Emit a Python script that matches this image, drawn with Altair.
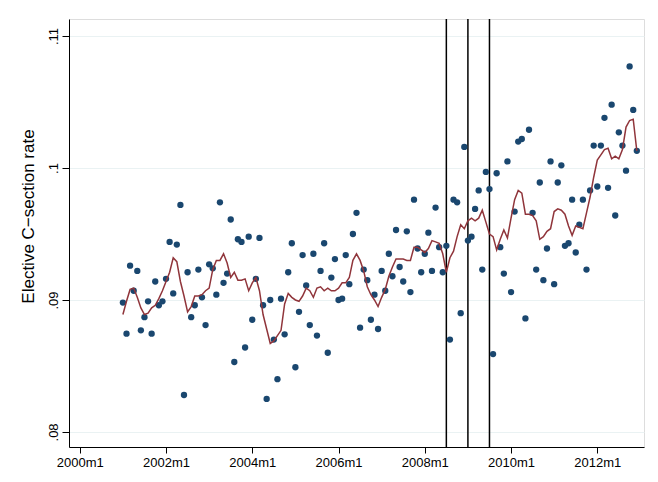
import altair as alt
import pandas as pd

# months since 2000m1 (2001m1 .. 2012m12)
months = list(range(12, 156))
rate = [
    0.0898, 0.08745, 0.0926, 0.0907, 0.0922, 0.0877, 0.0887, 0.0899, 0.08745, 0.0914, 0.0896, 0.0899,
    0.0916, 0.0944, 0.0905, 0.0942, 0.0972, 0.0828, 0.0921, 0.0887, 0.0896, 0.0923, 0.0902, 0.0881,
    0.0927, 0.0924, 0.0904, 0.0974, 0.0913, 0.0920, 0.0961, 0.0853, 0.0946, 0.0944, 0.0864, 0.0948,
    0.0885, 0.0916, 0.0947, 0.0896, 0.0825, 0.0900, 0.0870, 0.0840, 0.0901, 0.0874, 0.0921, 0.0943,
    0.0849, 0.0891, 0.0934, 0.0911, 0.0881, 0.0935, 0.0873, 0.0922, 0.0943, 0.0860, 0.0917, 0.0931,
    0.0900, 0.0901, 0.0934, 0.0912, 0.0950, 0.0966, 0.0879, 0.0923, 0.0915, 0.0885, 0.0904, 0.0878,
    0.0922, 0.0907, 0.0935, 0.0918, 0.0953, 0.0925, 0.0914, 0.0952, 0.0906, 0.0976, 0.0939, 0.0921,
    0.0935, 0.0951, 0.0922, 0.0970, 0.0940, 0.0921, 0.0941, 0.0870, 0.0976, 0.0974, 0.0890, 0.1016,
    0.0945, 0.0948, 0.0969, 0.0983, 0.0923, 0.0997, 0.0984, 0.0859, 0.0996, 0.0940, 0.0920, 0.1005,
    0.0906, 0.0967, 0.1020, 0.1022, 0.0886, 0.1029, 0.0966, 0.0923, 0.0989, 0.0915, 0.0939, 0.1005,
    0.0912, 0.0989, 0.1002, 0.0941, 0.0943, 0.0976, 0.0936, 0.0957, 0.0976, 0.0923, 0.0983, 0.1017,
    0.0986, 0.1017, 0.1038, 0.0985, 0.1048, 0.0964, 0.1027, 0.1017, 0.0998, 0.1077, 0.1044, 0.1013,
]
# smoothed series (red line)
smooth = [
    0.0889, 0.0899, 0.0908, 0.0909, 0.0902, 0.0894, 0.0889, 0.0890, 0.0894, 0.0896, 0.0901, 0.0907,
    0.0914, 0.0921, 0.0932, 0.0929, 0.0914, 0.0903, 0.0891, 0.0895, 0.0903, 0.0903, 0.0904, 0.0907,
    0.0909, 0.0923, 0.0930, 0.0930, 0.0935, 0.0928, 0.0917, 0.0921, 0.0915, 0.0915, 0.0916, 0.0907,
    0.0913, 0.0917, 0.0907, 0.0889, 0.0878, 0.0867, 0.0869, 0.0873, 0.0877, 0.0897, 0.0905, 0.0902,
    0.0900, 0.0899, 0.0903, 0.0909, 0.0907, 0.0902, 0.0909, 0.0910, 0.0907, 0.0909, 0.0907, 0.0907,
    0.0909, 0.0913, 0.0913, 0.0917, 0.0930, 0.0935, 0.0930, 0.0922, 0.0910, 0.0904, 0.0900, 0.0895,
    0.0902, 0.0908, 0.0918, 0.0925, 0.0931, 0.0931, 0.0931, 0.0930, 0.0930, 0.0940, 0.0940, 0.0938,
    0.0936, 0.0939, 0.0945, 0.0944, 0.0943, 0.0935, 0.0921, 0.0932, 0.0937, 0.0948, 0.0957, 0.0954,
    0.0960, 0.0962, 0.0960, 0.0962, 0.0968, 0.0959, 0.0950, 0.0948, 0.0938, 0.0946, 0.0953, 0.0947,
    0.0962, 0.0976, 0.0983, 0.0981, 0.0965, 0.0965, 0.0964, 0.0960, 0.0946, 0.0948, 0.0952, 0.0954,
    0.0967, 0.0969, 0.0968, 0.0965, 0.0956, 0.0949, 0.0956, 0.0955, 0.0954, 0.0966, 0.0978, 0.0993,
    0.1006, 0.1010, 0.1014, 0.1015, 0.1007, 0.1009, 0.1007, 0.1014, 0.1031, 0.1036, 0.1037, 0.1013,
]
event_months = [102, 108, 114]          # 2008m7, 2009m1, 2009m7
x_tick_values = [0, 24, 48, 72, 96, 120, 144]
y_tick_values = [0.08, 0.09, 0.10, 0.11]

df = pd.DataFrame({"month": months, "rate": rate, "smooth": smooth})
ev = pd.DataFrame({"month": event_months})

FONT = "Liberation Sans"
XS = alt.Scale(domain=[-3, 157], nice=False, zero=False)
YS = alt.Scale(domain=[0.07886, 0.11129], nice=False, zero=False)

x_enc = alt.X(
    "month:Q",
    scale=XS,
    axis=alt.Axis(
        values=x_tick_values,
        labelExpr="(2000 + floor(datum.value / 12)) + 'm1'",
        title=None,
        grid=False,
        tickSize=6,
        tickColor="black",
        domainColor="black",
        labelFontSize=13,
        labelFont=FONT,
        labelColor="black",
        labelPadding=3,
    ),
)
y_enc = alt.Y(
    "rate:Q",
    scale=YS,
    axis=alt.Axis(
        values=y_tick_values,
        labelExpr="replace(format(datum.value, '.2~f'), '0.', '.')",
        title="Elective C\u2212section rate",
        titleFontSize=17,
        titleFont=FONT,
        titleFontWeight="normal",
        titleColor="black",
        titlePadding=10,
        titleY=197,
        grid=True,
        gridColor="#EAF2F3",
        gridWidth=1.2,
        tickSize=7,
        tickColor="black",
        domainColor="black",
        labelAngle=270,
        labelAlign="center",
        labelBaseline="bottom",
        labelFontSize=13,
        labelFont=FONT,
        labelColor="black",
        labelPadding=2,
    ),
)

rules = alt.Chart(ev).mark_rule(color="black", strokeWidth=1.5).encode(
    x=alt.X("month:Q", scale=XS)
)

points = alt.Chart(df).mark_circle(size=40, color="#1A476F", opacity=1).encode(x=x_enc, y=y_enc)

line = alt.Chart(df).mark_line(color="#90353B", strokeWidth=1.5).encode(
    x=x_enc, y=alt.Y("smooth:Q", scale=YS)
)

chart = (
    alt.layer(rules, points, line)
    .properties(width=575, height=428, padding={"left": 11, "top": 10, "right": 5, "bottom": 5})
    .configure_view(strokeWidth=0)
    .configure(background="white")
)

chart.save("out.html", embed_options={"renderer": "svg", "actions": False})
